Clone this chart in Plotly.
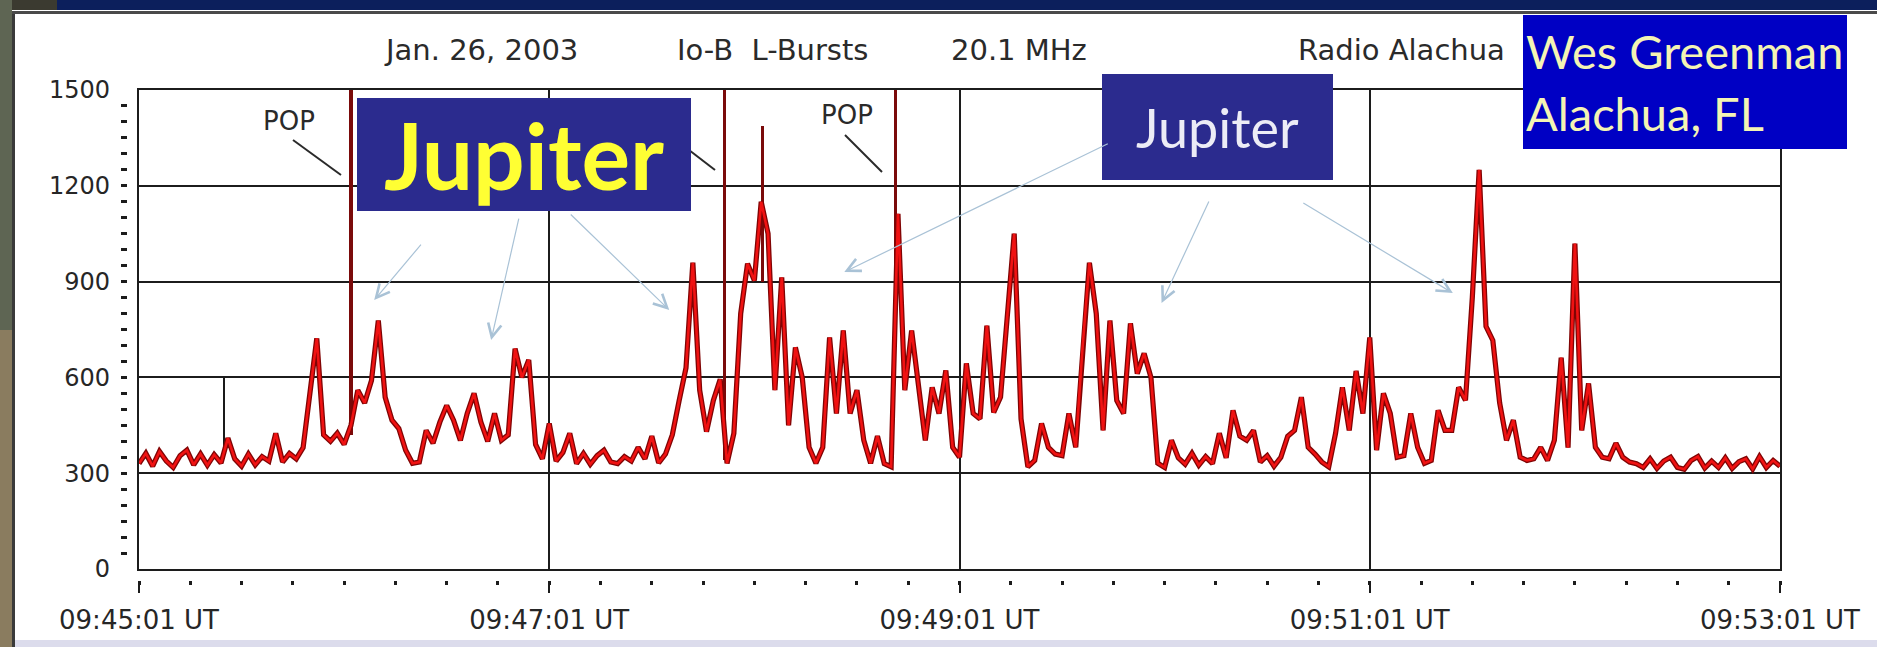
import plotly.graph_objects as go

# ---------------- data ----------------
SAMPLE_SECONDS = 2          # one reading every 2 s, from 09:45:01 UT
signal = [
    330, 362, 322, 368, 338, 318, 355, 372, 326, 360,
    325, 358, 332, 410, 345, 322, 360, 326, 352, 338,
    425, 335, 362, 345, 380, 560, 722, 420, 400, 425,
    390, 450, 560, 520, 590, 778, 538, 466, 440, 372,
    331, 335, 434, 394, 460, 512, 466, 403, 487, 550,
    460, 400, 487, 403, 420, 690, 600, 655, 390, 345,
    456, 338, 365, 425, 330, 362, 328, 355, 372, 335,
    330, 352, 338, 381, 345, 416, 332, 360, 420, 528,
    630, 959, 560, 430, 528, 594, 331, 425, 800, 956,
    903, 1150, 1050, 560, 913, 450, 694, 600, 381, 331,
    381, 725, 487, 747, 487, 560, 403, 331, 416, 330,
    320, 1112, 560, 747, 569, 403, 569, 487, 622, 381,
    350, 644, 487, 470, 762, 490, 538, 800, 1050, 470,
    320, 340, 456, 381, 360, 355, 487, 381, 694, 959,
    800, 434, 778, 528, 487, 769, 612, 675, 600, 331,
    318, 403, 348, 328, 362, 325, 352, 330, 425, 348,
    497, 416, 403, 434, 335, 355, 322, 350, 416, 434,
    538, 381, 360, 335, 320, 425, 569, 434, 620, 487,
    725, 372, 550, 487, 350, 355, 487, 381, 331, 340,
    497, 434, 434, 569, 528, 850, 1250, 760, 716, 520,
    403, 466, 350, 340, 345, 381, 340, 403, 662, 380,
    1019, 434, 581, 381, 350, 345, 394, 350, 335, 330,
    318, 345, 315, 338, 350, 318, 312, 340, 352, 316,
    338, 318, 348, 315, 336, 345, 313, 352, 318, 340, 322,
]
times = [i * SAMPLE_SECONDS for i in range(len(signal))]

# narrow spikes (POPs and a few thin bursts): time [s], bottom, top
spike_times = [24.9, 62.0, 171.2, 182.4, 221.3]
spike_bottoms = [345, 420, 340, 900, 700]
spike_tops = [600, 1500, 1500, 1388, 1500]

x_tick_seconds = [0, 120, 240, 360, 480]
x_tick_labels = ["09:45:01 UT", "09:47:01 UT", "09:49:01 UT", "09:51:01 UT", "09:53:01 UT"]
y_tick_values = [0, 300, 600, 900, 1200, 1500]

title_parts = ["Jan. 26, 2003", "Io-B  L-Bursts", "20.1 MHz", "Radio Alachua"]
pop_label = "POP"

# arrow heads (time s, value) for the "Jupiter" call-outs
arrow_head_t = [68.8, 103.0, 155.1, 206.3, 299.1, 384.3]
arrow_head_v = [842, 717, 811, 930, 833, 864]

# ---------------- layout geometry ----------------
W, H = 1877, 647
ML, MR, MT, MB = 120, 97, 90, 67
PW, PH = W - ML - MR, H - MT - MB


def px(X):
    return (X - ML) / PW


def py(Y):
    return (H - MB - Y) / PH


fig = go.Figure()

spike_colors = ["#1a1a1a", "#7a0a0a", "#7a0a0a", "#7a0a0a", "#7a0a0a"]
fig.add_trace(go.Bar(
    x=spike_times,
    y=[t - b for t, b in zip(spike_tops, spike_bottoms)],
    base=spike_bottoms,
    width=[0.5, 0.9, 0.9, 0.7, 0.9],
    marker=dict(color=spike_colors, line=dict(width=0)),
    hoverinfo="skip", showlegend=False,
))
fig.add_trace(go.Scatter(
    x=times, y=signal, mode="lines",
    line=dict(color="#800404", width=5.2),
    hoverinfo="skip", showlegend=False,
))
fig.add_trace(go.Scatter(
    x=times, y=signal, mode="lines",
    line=dict(color="#f01212", width=2.6),
    showlegend=False,
))
# invisible trace that carries the detached tick axes
fig.add_trace(go.Scatter(
    x=times, y=signal, xaxis="x2", yaxis="y2", mode="lines",
    line=dict(width=0), opacity=0, hoverinfo="skip", showlegend=False,
))

tick_font = dict(family="DejaVu Sans", size=24, color="#262626")
xtick_font = dict(family="DejaVu Sans", size=26, color="#262626")

fig.update_layout(
    width=W, height=H,
    margin=dict(l=ML, r=MR, t=MT, b=MB, pad=0),
    paper_bgcolor="white", plot_bgcolor="white",
    bargap=0,
    xaxis=dict(
        domain=[px(139), 1], range=[0, 480],
        tickvals=x_tick_seconds, showticklabels=False, ticks="",
        showgrid=True, gridcolor="#1c1c1c", gridwidth=2,
        showline=True, linecolor="#1c1c1c", linewidth=2, mirror=True,
        zeroline=False, fixedrange=True,
    ),
    yaxis=dict(
        domain=[py(569), 1], range=[0, 1500],
        tickvals=y_tick_values, showticklabels=False, ticks="",
        showgrid=True, gridcolor="#1c1c1c", gridwidth=2,
        showline=True, linecolor="#1c1c1c", linewidth=2, mirror=True,
        zeroline=False, fixedrange=True,
    ),
    xaxis2=dict(
        overlaying="x", anchor="free", position=0, range=[0, 480],
        tickvals=x_tick_seconds, ticktext=x_tick_labels,
        ticks="outside", ticklen=12, tickwidth=2, tickcolor="#1c1c1c",
        minor=dict(dtick=15, tick0=0, ticks="outside", ticklen=4,
                   tickwidth=3, tickcolor="#1c1c1c", showgrid=False),
        ticklabelstandoff=5,
        tickfont=xtick_font, showgrid=False, showline=False, zeroline=False,
    ),
    yaxis2=dict(
        overlaying="y", anchor="free", position=0, side="left", range=[0, 1500],
        tickvals=y_tick_values,
        ticks="inside", ticklen=3, tickwidth=3, tickcolor="#1c1c1c",
        minor=dict(dtick=50, tick0=0, ticks="inside", ticklen=6,
                   tickwidth=3, tickcolor="#1c1c1c", showgrid=False),
        ticklabelstandoff=10,
        tickfont=tick_font, showgrid=False, showline=False, zeroline=False,
    ),
)

# ---------------- background decoration ----------------
shapes = [
    dict(type="rect", xref="paper", yref="paper", x0=px(57), x1=px(W), y0=py(0), y1=py(10),
         fillcolor="#0c1f5c", line=dict(width=0), layer="below"),
    dict(type="rect", xref="paper", yref="paper", x0=px(0), x1=px(57), y0=py(0), y1=py(10),
         fillcolor="#3b3a30", line=dict(width=0), layer="below"),
    dict(type="rect", xref="paper", yref="paper", x0=px(0), x1=px(12), y0=py(0), y1=py(330),
         fillcolor="#5e6553", line=dict(width=0), layer="below"),
    dict(type="rect", xref="paper", yref="paper", x0=px(0), x1=px(12), y0=py(330), y1=py(H),
         fillcolor="#8a7c5f", line=dict(width=0), layer="below"),
    dict(type="rect", xref="paper", yref="paper", x0=px(12), x1=px(15), y0=py(12), y1=py(H),
         fillcolor="#3a3a3a", line=dict(width=0), layer="below"),
    dict(type="rect", xref="paper", yref="paper", x0=px(12), x1=px(W), y0=py(11), y1=py(14),
         fillcolor="#4a4a4a", line=dict(width=0), layer="below"),
    dict(type="rect", xref="paper", yref="paper", x0=px(15), x1=px(W), y0=py(640), y1=py(H),
         fillcolor="#dcdcec", line=dict(width=0), layer="below"),
    # POP pointer lines
    dict(type="line", xref="paper", yref="paper", x0=px(293), y0=py(140), x1=px(341), y1=py(175),
         line=dict(color="#2a2a2a", width=2)),
    dict(type="line", xref="paper", yref="paper", x0=px(676), y0=py(140), x1=px(715), y1=py(170),
         line=dict(color="#2a2a2a", width=2)),
    dict(type="line", xref="paper", yref="paper", x0=px(845), y0=py(135), x1=px(882), y1=py(172),
         line=dict(color="#2a2a2a", width=2)),
]
fig.update_layout(shapes=shapes)

title_font = dict(family="DejaVu Sans", size=29, color="#2a2a2a")
pop_font = dict(family="DejaVu Sans", size=26, color="#2a2a2a")

annotations = [
    dict(text=title_parts[0], x=px(481), y=py(50), xanchor="center", yanchor="middle", font=title_font),
    dict(text=title_parts[1], x=px(772), y=py(50), xanchor="center", yanchor="middle", font=title_font),
    dict(text=title_parts[2], x=px(1019), y=py(50), xanchor="center", yanchor="middle", font=title_font),
    dict(text=title_parts[3], x=px(1296), y=py(50), xanchor="left", yanchor="middle", font=title_font),
    dict(text=pop_label, x=px(289), y=py(121), xanchor="center", yanchor="middle", font=pop_font),
    dict(text=pop_label, x=px(662), y=py(118), xanchor="center", yanchor="middle", font=pop_font),
    dict(text=pop_label, x=px(847), y=py(115), xanchor="center", yanchor="middle", font=pop_font),
    # call-out boxes
    dict(text="<b>Jupiter</b>", x=px(524), y=py(154.5), xanchor="center", yanchor="middle",
         width=334, height=113, bgcolor="#2b2b8e", borderpad=0, borderwidth=0,
         font=dict(family="Lato", size=91, color="#ffff33")),
    dict(text="Jupiter", x=px(1217.5), y=py(127), xanchor="center", yanchor="middle",
         width=231, height=106, bgcolor="#2b2b8e", borderpad=0, borderwidth=0,
         font=dict(family="Lato", size=54, color="#ececf6")),
    dict(text="Wes Greenman<br>Alachua, FL", x=px(1685), y=py(82), xanchor="center", yanchor="middle",
         width=318, height=128, bgcolor="#0000c4", borderpad=3, borderwidth=0, align="left",
         font=dict(family="Lato", size=47, color="#f4f4b4")),
]
for ax_off, ay_off, t, v in zip([48, 28, -100, 265, 48, -151], [-57, -123, -97, -129, -103, -91],
                                arrow_head_t, arrow_head_v):
    annotations.append(dict(
        text="", x=t, y=v, xref="x", yref="y", showarrow=True,
        ax=ax_off, ay=ay_off, arrowhead=5, arrowsize=2.2, arrowwidth=1.2,
        arrowcolor="#a9c2d6", standoff=0,
    ))
for a in annotations:
    a.setdefault("xref", "paper")
    a.setdefault("yref", "paper")
    a.setdefault("showarrow", False)
fig.update_layout(annotations=annotations)

fig.write_html("out.html", config={"displayModeBar": False})
